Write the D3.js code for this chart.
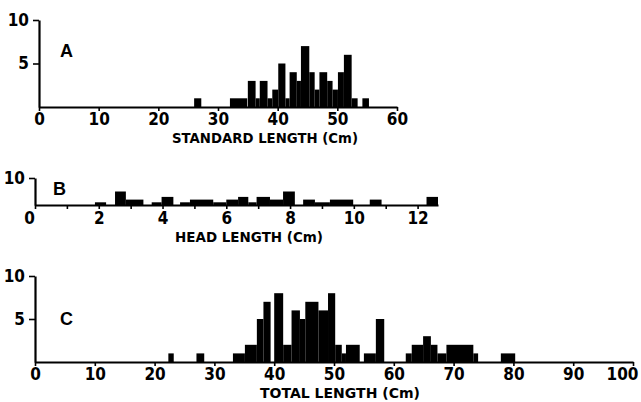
<!DOCTYPE html>
<html>
<head>
<meta charset="utf-8">
<script src="https://cdn.jsdelivr.net/npm/d3@7.9.0/dist/d3.min.js"></script>
<style>
  body { margin: 0; background: #fff; }
  .tick text { font-family: "Liberation Sans Narrow", "DejaVu Sans Condensed", sans-serif; font-weight: bold; font-size: 17px; fill: #000; }
  .title { font-family: "DejaVu Sans", sans-serif; font-weight: bold; font-size: 14px; fill: #000; }
  .letter { font-family: "Liberation Sans", sans-serif; font-weight: bold; font-size: 18px; fill: #000; }
</style>
</head>
<body>
<svg id="chart" width="641" height="402"></svg>
<script>
// panel A: standard length (cm)
const aStart = [26, 32, 35, 36.3, 37, 38.3, 39.1, 40.1, 41.3, 42, 43.2, 43.9, 45.3, 46.2, 47, 48.3, 49.2, 50.1, 51.1, 52.4, 54.2];
const aEnd   = [27.2, 34.9, 36.3, 37, 38.3, 39.1, 40.1, 41.3, 42, 43.2, 43.9, 45.3, 46.2, 47, 48.3, 49.2, 50.1, 51.1, 52.4, 53.4, 55.3];
const aCount = [1, 1, 3, 1, 3, 1, 2, 5, 1, 4, 3, 7, 4, 2, 4, 3, 2, 4, 6, 1, 1];

// panel B: head length (cm)
const bStart = [1.88, 2.51, 2.85, 3.66, 3.97, 4.55, 4.86, 5.59, 6.0, 6.37, 6.69, 6.95, 7.37, 7.78, 8.41, 8.78, 9.25, 10.5, 12.28];
const bEnd   = [2.23, 2.85, 3.4, 3.97, 4.34, 4.86, 5.59, 6.0, 6.37, 6.69, 6.95, 7.37, 7.78, 8.15, 8.78, 9.25, 9.98, 10.87, 12.64];
const bCount = [1, 5, 2, 1, 3, 1, 2, 1, 2, 3, 1, 3, 2, 5, 2, 1, 2, 2, 3];

// panel C: total length (cm)
const cStart = [22.3, 27.0, 33.1, 35.1, 37.1, 38.2, 40.0, 41.5, 42.9, 44.3, 45.2, 47.4, 49.0, 50.2, 51.3, 52.0, 55.0, 57.0, 62.0, 63.0, 64.9, 66.2, 67.3, 68.8, 73.3, 77.9];
const cEnd   = [23.2, 28.3, 35.1, 37.1, 38.2, 39.4, 41.5, 42.9, 44.3, 45.2, 47.4, 49.0, 50.2, 51.3, 52.0, 54.3, 57.0, 58.4, 63.0, 64.9, 66.2, 67.3, 68.8, 73.3, 74.1, 80.3];
const cCount = [1, 1, 1, 2, 5, 7, 8, 2, 6, 5, 7, 6, 8, 2, 1, 2, 1, 5, 1, 2, 3, 2, 1, 2, 1, 1];

const aTicks = [0, 10, 20, 30, 40, 50, 60];
const bTicks = d3.range(0, 13);
const cTicks = [0, 10, 20, 30, 40, 50, 60, 70, 80, 90, 100];

const svg = d3.select('#chart');
svg.append('rect').attr('width', 641).attr('height', 402).attr('fill', '#fff');

function panel(p) {
  const g = svg.append('g');
  const x = d3.scaleLinear().domain(p.xDomain).range(p.xRange);
  const y = d3.scaleLinear().domain([0, 10]).range(p.yRange);

  g.selectAll('rect.bar')
    .data(p.start.map((s, i) => ({ s, e: p.end[i], n: p.count[i] })))
    .join('rect')
    .attr('class', 'bar')
    .attr('x', d => x(d.s))
    .attr('width', d => x(d.e) - x(d.s))
    .attr('y', d => y(d.n))
    .attr('height', d => y(0) - y(d.n))
    .attr('fill', '#000');

  const xa = g.append('g')
    .attr('transform', `translate(0,${y(0)})`)
    .call(d3.axisBottom(x).tickValues(p.xTicks).tickSize(4).tickSizeOuter(0)
      .tickPadding(p.xPad).tickFormat(p.xFmt || (d => d)));
  const ya = g.append('g')
    .attr('transform', `translate(${x(0)},0)`)
    .call(d3.axisLeft(y).tickValues(p.yTicks).tickSize(6).tickSizeOuter(0).tickPadding(4));

  [xa, ya].forEach(a => {
    a.select('.domain').attr('stroke', '#000').attr('stroke-width', 2.2);
    a.selectAll('.tick line').attr('stroke', '#000').attr('stroke-width', 1.6);
  });

  // nudge end labels the way the original sits
  xa.selectAll('.tick text').attr('dx', d => (p.labelShift && p.labelShift[d]) || 0);

  g.append('text').attr('class', 'letter')
    .attr('x', p.letterPos[0]).attr('y', p.letterPos[1]).text(p.letter);

  g.append('text').attr('class', 'title')
    .attr('x', p.titlePos[0]).attr('y', p.titlePos[1])
    .attr('textLength', p.titleLen).attr('lengthAdjust', 'spacingAndGlyphs')
    .text(p.title);
}

panel({
  start: aStart, end: aEnd, count: aCount,
  xDomain: [0, 60], xRange: [39, 397], yRange: [107, 20],
  xTicks: aTicks, xPad: 2, yTicks: [5, 10],
  letter: 'A', letterPos: [60, 57],
  title: 'STANDARD LENGTH (Cm)', titlePos: [172, 143], titleLen: 186
});

panel({
  start: bStart, end: bEnd, count: bCount,
  xDomain: [0, 12.64], xRange: [35, 438], yRange: [205, 178],
  xTicks: bTicks, xPad: 3, yTicks: [10],
  xFmt: d => (d % 2 === 0 ? d : ''),
  labelShift: { 0: -6 },
  letter: 'B', letterPos: [53, 195],
  title: 'HEAD LENGTH (Cm)', titlePos: [175, 242], titleLen: 148
});

panel({
  start: cStart, end: cEnd, count: cCount,
  xDomain: [0, 100], xRange: [35, 633], yRange: [362, 276],
  xTicks: cTicks, xPad: 2, yTicks: [5, 10],
  labelShift: { 100: -11 },
  letter: 'C', letterPos: [60, 325],
  title: 'TOTAL LENGTH (Cm)', titlePos: [260, 398], titleLen: 160
});
</script>
</body>
</html>
